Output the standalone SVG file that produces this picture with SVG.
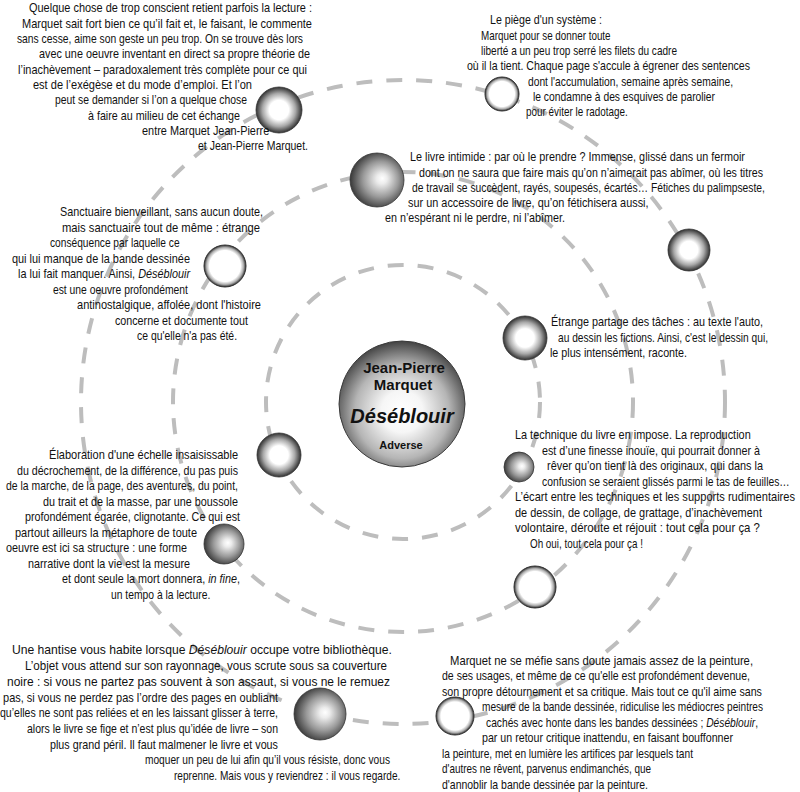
<svg xmlns="http://www.w3.org/2000/svg" width="800" height="792" viewBox="0 0 800 792">
<style>
.t{font-family:"Liberation Sans",Arial,sans-serif;font-size:13.3px;fill:#111}
.i{font-style:italic}
.ring{fill:none;stroke:#bdbdbd;stroke-width:4;stroke-dasharray:16 14}
.c{font-family:"Liberation Sans",Arial,sans-serif;font-weight:bold;text-anchor:middle;fill:#111}
.sr{fill:url(#gRing);stroke:#333;stroke-width:1}
.sb{fill:url(#gBright);stroke:#333;stroke-width:0.8}
.sd{fill:url(#gDark);stroke:#333;stroke-width:0.8}
</style>
<defs>
<radialGradient id="gRing" cx="0.5" cy="0.5" r="0.5">
<stop offset="0" stop-color="#fff"/><stop offset="0.74" stop-color="#fff"/><stop offset="0.88" stop-color="#b0b0b0"/><stop offset="1" stop-color="#2a2a2a"/>
</radialGradient>
<radialGradient id="gBright" cx="0.5" cy="0.5" r="0.5">
<stop offset="0" stop-color="#fff"/><stop offset="0.42" stop-color="#fff"/><stop offset="0.72" stop-color="#a8a8a8"/><stop offset="1" stop-color="#303030"/>
</radialGradient>
<radialGradient id="gDark" cx="0.55" cy="0.5" r="0.55" fx="0.6" fy="0.47">
<stop offset="0" stop-color="#fff"/><stop offset="0.18" stop-color="#ececec"/><stop offset="0.6" stop-color="#999"/><stop offset="1" stop-color="#383838"/>
</radialGradient>
<radialGradient id="gCenter" cx="0.5" cy="0.56" r="0.55">
<stop offset="0" stop-color="#fff"/><stop offset="0.3" stop-color="#f6f6f6"/><stop offset="0.68" stop-color="#b5b5b5"/><stop offset="1" stop-color="#484848"/>
</radialGradient>
</defs>
<rect width="800" height="792" fill="#fff"/>

<g id="connectors">
<circle class="ring" cx="403" cy="402" r="137"/>
<circle class="ring" cx="403" cy="402" r="230"/>
<circle class="ring" cx="403" cy="402" r="322"/>
</g>

<g id="center">
<circle cx="402" cy="404" r="63" fill="url(#gCenter)" stroke="#3a3a3a" stroke-width="1"/>
<text class="c" x="404" y="373" font-size="15">Jean-Pierre</text>
<text class="c" x="403" y="390" font-size="15">Marquet</text>
<text class="c" x="402" y="423" font-size="20" font-style="italic">Déséblouir</text>
<text class="c" x="401" y="449" font-size="11">Adverse</text>
</g>

<g id="n1">
<circle class="sb" cx="279" cy="110" r="23"/>
<g transform="scale(0.82 1)">
<text class="t" x="35.4" y="12" textLength="345.1" lengthAdjust="spacingAndGlyphs">Quelque chose de trop conscient retient parfois la lecture :</text>
<text class="t" x="26.8" y="28" textLength="353.7" lengthAdjust="spacingAndGlyphs">Marquet sait fort bien ce qu’il fait et, le faisant, le commente</text>
<text class="t" x="20.7" y="43" textLength="348.8" lengthAdjust="spacingAndGlyphs">sans cesse, aime son geste un peu trop. On se trouve dès lors</text>
<text class="t" x="47.6" y="58" textLength="330.5" lengthAdjust="spacingAndGlyphs">avec une oeuvre inventant en direct sa propre théorie de</text>
<text class="t" x="22" y="74" textLength="352.4" lengthAdjust="spacingAndGlyphs">l’inachèvement – paradoxalement très complète pour ce qui</text>
<text class="t" x="40.2" y="89" textLength="267.1" lengthAdjust="spacingAndGlyphs">est de l’exégèse et du mode d’emploi. Et l’on</text>
<text class="t" x="67.1" y="104" textLength="234.1" lengthAdjust="spacingAndGlyphs">peut se demander si l’on a quelque chose</text>
<text class="t" x="107.3" y="120" textLength="185.4" lengthAdjust="spacingAndGlyphs">à faire au milieu de cet échange</text>
<text class="t" x="173.2" y="135">entre Marquet Jean-Pierre</text>
<text class="t" x="241.5" y="150" textLength="134.1" lengthAdjust="spacingAndGlyphs">et Jean-Pierre Marquet.</text>
</g>
</g>

<g id="n2">
<circle class="sr" cx="502" cy="94" r="17"/>
<g transform="scale(0.82 1)">
<text class="t" x="597.6" y="24" textLength="136.6" lengthAdjust="spacingAndGlyphs">Le piège d'un système :</text>
<text class="t" x="586.6" y="40" textLength="158" lengthAdjust="spacingAndGlyphs">Marquet pour se donner toute</text>
<text class="t" x="586.6" y="55" textLength="239" lengthAdjust="spacingAndGlyphs">liberté a un peu trop serré les filets du cadre</text>
<text class="t" x="569.5" y="70" textLength="345.1" lengthAdjust="spacingAndGlyphs">où il la tient. Chaque page s'accule à égrener des sentences</text>
<text class="t" x="643.9" y="86" textLength="250" lengthAdjust="spacingAndGlyphs">dont l'accumulation, semaine après semaine,</text>
<text class="t" x="650" y="101" textLength="222" lengthAdjust="spacingAndGlyphs">le condamne à des esquives de parolier</text>
<text class="t" x="641.5" y="116" textLength="124" lengthAdjust="spacingAndGlyphs">pour éviter le radotage.</text>
</g>
</g>

<g id="n3">
<circle class="sd" cx="377" cy="180" r="27"/>
<g transform="scale(0.82 1)">
<text class="t" x="500" y="161" textLength="408.5" lengthAdjust="spacingAndGlyphs">Le livre intimide : par où le prendre ? Immense, glissé dans  un fermoir</text>
<text class="t" x="511" y="177" textLength="419.5" lengthAdjust="spacingAndGlyphs">dont on ne saura que faire mais qu’on n’aimerait pas abîmer, où les titres</text>
<text class="t" x="502.4" y="192" textLength="430.5" lengthAdjust="spacingAndGlyphs">de travail se succèdent, rayés, soupesés, écartés…  Fétiches du palimpseste,</text>
<text class="t" x="497.6" y="207">sur un accessoire de livre, qu’on fétichisera aussi,</text>
<text class="t" x="469.5" y="222" textLength="219.5" lengthAdjust="spacingAndGlyphs">en n’espérant ni le perdre, ni l’abîmer.</text>
</g>
</g>

<g id="n4">
<circle class="sb" cx="689" cy="250" r="21"/>
</g>

<g id="n5">
<circle class="sr" cx="225" cy="266" r="21"/>
<g transform="scale(0.82 1)">
<text class="t" x="73.2" y="216" textLength="247.6" lengthAdjust="spacingAndGlyphs">Sanctuaire bienveillant, sans aucun doute,</text>
<text class="t" x="75.6" y="232" textLength="241.5" lengthAdjust="spacingAndGlyphs">mais sanctuaire tout de même : étrange</text>
<text class="t" x="61" y="247" textLength="158" lengthAdjust="spacingAndGlyphs">conséquence par laquelle ce</text>
<text class="t" x="14.6" y="263" textLength="217.1" lengthAdjust="spacingAndGlyphs">qui lui manque de la bande dessinée</text>
<text class="t" x="22" y="278" textLength="209.8" lengthAdjust="spacingAndGlyphs">la lui fait manquer. Ainsi, <tspan class="i">Déséblouir</tspan></text>
<text class="t" x="64.6" y="294" textLength="164.6" lengthAdjust="spacingAndGlyphs">est une oeuvre profondément</text>
<text class="t" x="93.9" y="309" textLength="224.4" lengthAdjust="spacingAndGlyphs">antinostalgique, affolée, dont l'histoire</text>
<text class="t" x="140.2" y="325" textLength="162.2" lengthAdjust="spacingAndGlyphs">concerne et documente tout</text>
<text class="t" x="167.1" y="340" textLength="122" lengthAdjust="spacingAndGlyphs">ce qu'elle n'a pas été.</text>
</g>
</g>

<g id="n6">
<circle class="sb" cx="525" cy="338" r="22"/>
<g transform="scale(0.82 1)">
<text class="t" x="672" y="326" textLength="258.5" lengthAdjust="spacingAndGlyphs">Étrange partage des tâches : au texte l'auto,</text>
<text class="t" x="680.5" y="342" textLength="256.1" lengthAdjust="spacingAndGlyphs">au dessin les fictions. Ainsi, c'est le dessin qui,</text>
<text class="t" x="670.7" y="357" textLength="167.1" lengthAdjust="spacingAndGlyphs">le plus intensément, raconte.</text>
</g>
</g>

<g id="n7">
<circle class="sd" cx="519" cy="467" r="15"/>
<g transform="scale(0.82 1)">
<text class="t" x="628" y="439">La technique du livre en impose. La reproduction</text>
<text class="t" x="661" y="455" textLength="265.9" lengthAdjust="spacingAndGlyphs">est d’une finesse inouïe, qui pourrait donner à</text>
<text class="t" x="667.1" y="470" textLength="263.4" lengthAdjust="spacingAndGlyphs">rêver qu’on tient là des originaux, qui dans la</text>
<text class="t" x="661" y="486" textLength="302" lengthAdjust="spacingAndGlyphs">confusion se seraient glissés parmi le tas de feuilles…</text>
<text class="t" x="628" y="501" textLength="341.5" lengthAdjust="spacingAndGlyphs">L’écart entre les techniques et les supports rudimentaires</text>
<text class="t" x="628" y="517" textLength="301.2" lengthAdjust="spacingAndGlyphs">de dessin, de collage, de grattage, d’inachèvement</text>
<text class="t" x="628" y="532" textLength="298.8" lengthAdjust="spacingAndGlyphs">volontaire, déroute et réjouit : tout cela pour ça ?</text>
<text class="t" x="646.3" y="548" textLength="137.8" lengthAdjust="spacingAndGlyphs">Oh oui, tout cela pour ça !</text>
</g>
</g>

<g id="n8">
<circle class="sb" cx="279" cy="455" r="22"/>
<g transform="scale(0.82 1)">
<text class="t" x="59.8" y="459" textLength="230.5" lengthAdjust="spacingAndGlyphs">Élaboration d'une échelle insaisissable</text>
<text class="t" x="20.7" y="475" textLength="269.5" lengthAdjust="spacingAndGlyphs">du décrochement, de la différence, du pas puis</text>
<text class="t" x="7.3" y="490" textLength="282.9" lengthAdjust="spacingAndGlyphs">de la marche, de la page, des aventures, du point,</text>
<text class="t" x="52.4" y="506" textLength="237.8" lengthAdjust="spacingAndGlyphs">du trait et de la masse, par une boussole</text>
<text class="t" x="30.5" y="521" textLength="262.2" lengthAdjust="spacingAndGlyphs">profondément égarée, clignotante. Ce qui est</text>
<text class="t" x="18.3" y="537" textLength="222" lengthAdjust="spacingAndGlyphs">partout ailleurs la métaphore de toute</text>
<text class="t" x="7.3" y="552" textLength="220.7" lengthAdjust="spacingAndGlyphs">oeuvre est ici sa structure : une forme</text>
<text class="t" x="34.1" y="568" textLength="197.6" lengthAdjust="spacingAndGlyphs">narrative dont la vie est la mesure</text>
<text class="t" x="75.6" y="583" textLength="217.1" lengthAdjust="spacingAndGlyphs">et dont seule la mort donnera, <tspan class="i">in fine</tspan>,</text>
<text class="t" x="135.4" y="599" textLength="121" lengthAdjust="spacingAndGlyphs">un tempo à la lecture.</text>
</g>
</g>

<g id="n9">
<circle class="sd" cx="224" cy="544" r="20"/>
</g>

<g id="n10">
<circle class="sr" cx="535" cy="587" r="21"/>
</g>

<g id="n11">
<circle class="sr" cx="455" cy="716" r="19"/>
<g transform="scale(0.82 1)">
<text class="t" x="548.8" y="665" textLength="369.5" lengthAdjust="spacingAndGlyphs">Marquet ne se méfie sans doute jamais assez de la peinture,</text>
<text class="t" x="539" y="680" textLength="375.6" lengthAdjust="spacingAndGlyphs">de ses usages, et même de ce qu'elle est profondément devenue,</text>
<text class="t" x="539" y="696" textLength="390.2" lengthAdjust="spacingAndGlyphs">son propre détournement et sa critique. Mais tout ce qu'il aime sans</text>
<text class="t" x="587.8" y="711" textLength="342.7" lengthAdjust="spacingAndGlyphs">mesure de la bande dessinée, ridiculise les médiocres peintres</text>
<text class="t" x="592.7" y="727" textLength="331.7" lengthAdjust="spacingAndGlyphs">cachés avec honte dans les bandes dessinées ; <tspan class="i">Déséblouir</tspan>,</text>
<text class="t" x="587.8" y="742" textLength="306.1" lengthAdjust="spacingAndGlyphs">par un retour critique inattendu, en faisant bouffonner</text>
<text class="t" x="539" y="758" textLength="306.1" lengthAdjust="spacingAndGlyphs">la peinture, met en lumière les artifices par lesquels tant</text>
<text class="t" x="539" y="773" textLength="255" lengthAdjust="spacingAndGlyphs">d'autres ne rêvent, parvenus endimanchés, que</text>
<text class="t" x="539" y="789" textLength="251.2" lengthAdjust="spacingAndGlyphs">d'annoblir la bande dessinée par la peinture.</text>
</g>
</g>

<g id="n12">
<circle class="sd" cx="320" cy="714" r="26"/>
<g transform="scale(0.82 1)">
<text class="t" x="14.6" y="654" textLength="463.4" lengthAdjust="spacingAndGlyphs">Une hantise vous habite lorsque <tspan class="i">Déséblouir</tspan> occupe votre bibliothèque.</text>
<text class="t" x="30.5" y="670" textLength="441.5" lengthAdjust="spacingAndGlyphs">L’objet vous attend sur son rayonnage, vous scrute sous sa couverture</text>
<text class="t" x="8.5" y="686" textLength="467.1" lengthAdjust="spacingAndGlyphs">noire : si vous ne partez pas souvent à son assaut, si vous ne le remuez</text>
<text class="t" x="3.7" y="702" textLength="335.4" lengthAdjust="spacingAndGlyphs">pas, si vous ne perdez pas l’ordre des pages en oubliant</text>
<text class="t" x="0" y="717" textLength="339" lengthAdjust="spacingAndGlyphs">qu’elles ne sont pas reliées et en les laissant glisser à terre,</text>
<text class="t" x="32.9" y="733" textLength="306.1" lengthAdjust="spacingAndGlyphs">alors le livre se fige et n’est plus qu’idée de livre – son</text>
<text class="t" x="61" y="749" textLength="278" lengthAdjust="spacingAndGlyphs">plus grand péril. Il faut malmener le livre et vous</text>
<text class="t" x="176.8" y="764" textLength="298.8" lengthAdjust="spacingAndGlyphs">moquer un peu de lui afin qu’il vous résiste, donc vous</text>
<text class="t" x="212.2" y="780" textLength="276" lengthAdjust="spacingAndGlyphs">reprenne. Mais vous y reviendrez : il vous regarde.</text>
</g>
</g>
</svg>
